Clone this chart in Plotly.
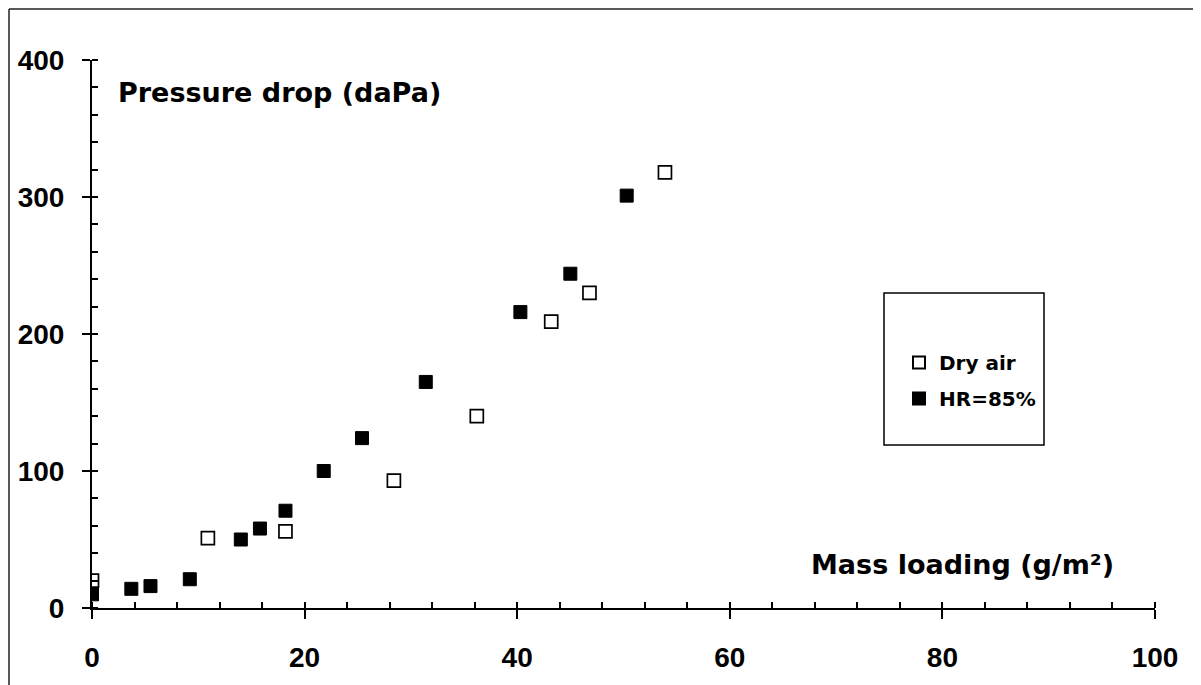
import plotly.graph_objects as go

# ---- data ----
dry_x = [0.0, 10.9, 18.2, 28.4, 36.2, 43.2, 46.8, 53.9]
dry_y = [20, 51, 56, 93, 140, 209, 230, 318]

hr_x = [0.0, 3.7, 5.5, 9.2, 14.0, 15.8, 18.2, 21.8, 25.4, 31.4, 40.3, 45.0, 50.3]
hr_y = [10, 14, 16, 21, 50, 58, 71, 100, 124, 165, 216, 244, 301]

x_ticks = [0, 20, 40, 60, 80, 100]
y_ticks = [0, 100, 200, 300, 400]

series_names = ["Dry air", "HR=85%"]
x_title = "Mass loading (g/m²)"
y_title = "Pressure drop (daPa)"

TXT = "DejaVu Sans"
NUM = "Liberation Sans, Arial"

fig = go.Figure()
fig.add_trace(go.Scatter(
    x=dry_x, y=dry_y, mode="markers", name=series_names[0],
    marker=dict(symbol="square", size=13, color="white",
                line=dict(color="black", width=1.7)),
    legendgroup="a",
))
fig.add_trace(go.Scatter(
    x=hr_x, y=hr_y, mode="markers", name=series_names[1],
    marker=dict(symbol="square", size=13, color="black",
                line=dict(color="black", width=1)),
    legendgroup="b",
))
# empty trace to carry overlay axes (inner halves of major ticks)
fig.add_trace(go.Scatter(x=[], y=[], xaxis="x2", yaxis="y2", showlegend=False))

OFF = 8  # page body margin
W, H = 1201 - OFF, 685 - OFF
L, T = 92 - OFF, 60 - OFF
R = W - (1155 - OFF)
B = H - (608 - OFF)
pw, ph = W - L - R, H - T - B


def px_x(p):  # page pixel -> paper
    return (p - OFF - L) / pw


def px_y(p):
    return (H - B - (p - OFF)) / ph


axis_common = dict(showgrid=False, zeroline=False, color="black", automargin=False)

fig.update_layout(
    width=W, height=H, autosize=False,
    margin=dict(l=L, r=R, t=T, b=B, pad=0, autoexpand=False),
    paper_bgcolor="white", plot_bgcolor="white",
    xaxis=dict(
        range=[0, 100], tickvals=x_ticks, ticks="outside", ticklen=9, tickwidth=2,
        showline=True, linewidth=2, linecolor="black",
        tickfont=dict(family=NUM, size=28, color="black", weight="bold"),
        minor=dict(dtick=4, ticks="inside", ticklen=6, tickwidth=1.5, tickcolor="black"),
        ticklabelstandoff=14,
        **axis_common,
    ),
    yaxis=dict(
        range=[0, 400], tickvals=y_ticks, ticks="outside", ticklen=8, tickwidth=2,
        showline=True, linewidth=2, linecolor="black",
        tickfont=dict(family=NUM, size=28, color="black", weight="bold"),
        minor=dict(dtick=20, ticks="inside", ticklen=6, tickwidth=1.5, tickcolor="black"),
        ticklabelstandoff=12,
        **axis_common,
    ),
    xaxis2=dict(range=[0, 100], tickvals=x_ticks, ticks="inside", ticklen=6, tickwidth=2,
                showticklabels=False, showline=False, overlaying="x", anchor="y2",
                tickcolor="black", showgrid=False, zeroline=False, automargin=False),
    yaxis2=dict(range=[0, 400], tickvals=y_ticks, ticks="inside", ticklen=6, tickwidth=2,
                showticklabels=False, showline=False, overlaying="y", anchor="x2",
                tickcolor="black", showgrid=False, zeroline=False, automargin=False),
    showlegend=True,
    legend=dict(
        x=px_x(899), y=px_y(343), xanchor="left", yanchor="top",
        bgcolor="rgba(0,0,0,0)", borderwidth=0,
        font=dict(family=TXT, size=20, color="black", weight="bold"),
        traceorder="grouped", tracegroupgap=7, itemsizing="constant",
    ),
)

# legend frame
fig.add_shape(type="rect", xref="paper", yref="paper",
              x0=px_x(884), x1=px_x(1044), y0=px_y(445), y1=px_y(293),
              line=dict(color="black", width=1.5), fillcolor="rgba(0,0,0,0)")

# picture frame (top and left edges)
fig.add_shape(type="line", xref="paper", yref="paper",
              x0=px_x(9), x1=px_x(1201), y0=px_y(9), y1=px_y(9),
              line=dict(color="#222", width=1.5))
fig.add_shape(type="line", xref="paper", yref="paper",
              x0=px_x(9), x1=px_x(9), y0=px_y(9), y1=px_y(685),
              line=dict(color="#222", width=1.5))

# axis titles
fig.add_annotation(text=y_title, xref="paper", yref="paper",
                   x=px_x(116), y=px_y(92), xanchor="left", yanchor="middle",
                   showarrow=False,
                   font=dict(family=TXT, size=27, color="black", weight="bold"))
fig.add_annotation(text=x_title, xref="paper", yref="paper",
                   x=px_x(1116), y=px_y(564), xanchor="right", yanchor="middle",
                   showarrow=False,
                   font=dict(family=TXT, size=27, color="black", weight="bold"))

fig.write_html("out.html")
